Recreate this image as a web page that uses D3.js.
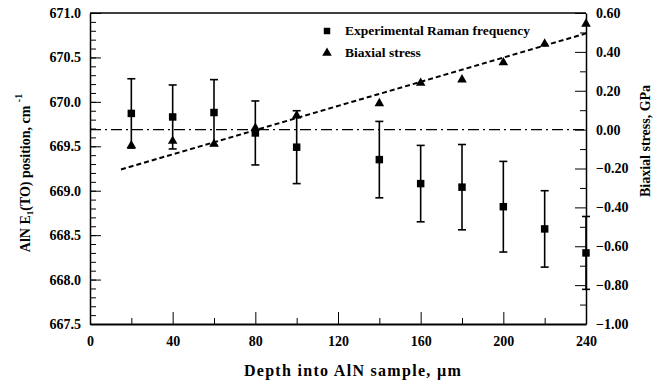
<!doctype html>
<html lang="en">
  <head>
    <meta charset="UTF-8"/>
    <title>AlN Raman / stress</title>
    <script src="https://d3js.org/d3.v7.min.js"></script>
    <style>
      body { margin: 0; background: #fff; }
      svg text { font-family: "Liberation Serif", "Times New Roman", serif; font-weight: bold; fill: #000; }
      .axis path, .axis line { stroke: #000; }
    </style>
  </head>
  <body>
    <div id="chart"></div>
    <script>
      // depth into sample (um)
      var depth = [20, 40, 60, 80, 100, 140, 160, 180, 200, 220, 240];
      // experimental Raman frequency (cm-1) and error bar half-heights
      var raman = [669.87, 669.83, 669.88, 669.65, 669.49, 669.35, 669.08, 669.04, 668.82, 668.57, 668.30];
      var ramanErr = [0.39, 0.36, 0.37, 0.36, 0.41, 0.43, 0.43, 0.48, 0.51, 0.43, 0.41];
      // biaxial stress (GPa)
      var stress = [-0.082, -0.059, -0.074, 0.008, 0.072, 0.135, 0.24, 0.257, 0.345, 0.441, 0.544];
      // dashed trend line through stress
      var fitX = [15, 240];
      var fitY = [-0.205, 0.495];

      var xTicks = [0, 40, 80, 120, 160, 200, 240];
      var leftTicks = [667.5, 668.0, 668.5, 669.0, 669.5, 670.0, 670.5, 671.0];
      var rightTicks = [-1.0, -0.8, -0.6, -0.4, -0.2, 0.0, 0.2, 0.4, 0.6];

      var W = 662, H = 383;
      var margin = {top: 13, right: 76, bottom: 59, left: 90};
      var width = W - margin.left - margin.right,
          height = H - margin.top - margin.bottom;

      var svg = d3.select("#chart").append("svg")
          .attr("width", W).attr("height", H);
      var g = svg.append("g").attr("transform", "translate(" + margin.left + "," + margin.top + ")");

      var x = d3.scaleLinear().domain([0, 240]).range([0, width]);
      var yL = d3.scaleLinear().domain([667.5, 671.0]).range([height, 0]);
      var yR = d3.scaleLinear().domain([-1.0, 0.6]).range([height, 0]);

      // minor ticks
      g.append("g").attr("class", "axis")
        .call(d3.axisLeft(yL).tickValues(d3.range(667.6, 671.0, 0.1)).tickSize(-6).tickFormat(""))
        .call(s => s.select(".domain").remove());
      g.append("g").attr("class", "axis").attr("transform", "translate(" + width + ",0)")
        .call(d3.axisRight(yR).tickValues(d3.range(-0.9, 0.6, 0.2)).tickSize(-6).tickFormat(""))
        .call(s => s.select(".domain").remove());
      g.append("g").attr("class", "axis").attr("transform", "translate(0," + height + ")")
        .call(d3.axisBottom(x).tickValues(d3.range(20, 240, 40)).tickSize(-6).tickFormat(""))
        .call(s => s.select(".domain").remove());

      // major axes
      var ax = g.append("g").attr("class", "axis")
        .call(d3.axisLeft(yL).tickValues(leftTicks).tickSizeInner(-11).tickSizeOuter(0).tickPadding(9).tickFormat(d3.format(".1f")));
      ax.selectAll("text").style("font-size", "14px");
      ax.select(".domain").attr("stroke-width", 1.5);

      var axR = g.append("g").attr("class", "axis").attr("transform", "translate(" + width + ",0)")
        .call(d3.axisRight(yR).tickValues(rightTicks).tickSizeInner(-11).tickSizeOuter(0).tickPadding(10).tickFormat(d3.format(".2f")));
      axR.selectAll("text").style("font-size", "14px");
      axR.select(".domain").attr("stroke-width", 1.5);

      var axB = g.append("g").attr("class", "axis").attr("transform", "translate(0," + height + ")")
        .call(d3.axisBottom(x).tickValues(xTicks).tickSizeInner(-12).tickSizeOuter(0).tickPadding(12));
      axB.selectAll("text").style("font-size", "14px");
      axB.select(".domain").attr("stroke-width", 2);

      // top border
      g.append("line").attr("x1", 0).attr("x2", width).attr("y1", 0).attr("y2", 0)
        .attr("stroke", "#000").attr("stroke-width", 1.5);

      // zero stress reference line
      g.append("line")
        .attr("x1", 0).attr("x2", width)
        .attr("y1", yR(0)).attr("y2", yR(0))
        .attr("stroke", "#000").attr("stroke-width", 1.2)
        .attr("stroke-dasharray", "11,4,2,4");

      // trend line
      g.append("line")
        .attr("x1", x(fitX[0])).attr("x2", x(fitX[1]))
        .attr("y1", yR(fitY[0])).attr("y2", yR(fitY[1]))
        .attr("stroke", "#000").attr("stroke-width", 2)
        .attr("stroke-dasharray", "5,3");

      // error bars
      var pts = depth.map((d, i) => ({d: d, r: raman[i], e: ramanErr[i], s: stress[i]}));
      var eb = g.selectAll(".err").data(pts).enter().append("g").attr("class", "err")
        .attr("stroke", "#000").attr("stroke-width", 1.6);
      eb.append("line").attr("x1", d => x(d.d)).attr("x2", d => x(d.d))
        .attr("y1", d => yL(d.r + d.e)).attr("y2", d => yL(d.r - d.e));
      eb.append("line").attr("x1", d => x(d.d) - 4).attr("x2", d => x(d.d) + 4)
        .attr("y1", d => yL(d.r + d.e)).attr("y2", d => yL(d.r + d.e));
      eb.append("line").attr("x1", d => x(d.d) - 4).attr("x2", d => x(d.d) + 4)
        .attr("y1", d => yL(d.r - d.e)).attr("y2", d => yL(d.r - d.e));

      var sq = d3.symbol().type(d3.symbolSquare).size(56);
      var tri = d3.symbol().type(d3.symbolTriangle).size(40);

      g.selectAll(".sq").data(pts).enter().append("path").attr("class", "sq")
        .attr("d", sq).attr("fill", "#000")
        .attr("transform", d => "translate(" + x(d.d) + "," + yL(d.r) + ")");
      g.selectAll(".tri").data(pts).enter().append("path").attr("class", "tri")
        .attr("d", tri).attr("fill", "#000")
        .attr("transform", d => "translate(" + x(d.d) + "," + yR(d.s) + ")");

      // legend
      var lg = svg.append("g").attr("transform", "translate(327,0)");
      lg.append("path").attr("d", d3.symbol().type(d3.symbolSquare).size(42)).attr("fill", "#000")
        .attr("transform", "translate(0,31)");
      lg.append("path").attr("d", d3.symbol().type(d3.symbolTriangle).size(40)).attr("fill", "#000")
        .attr("transform", "translate(0,53)");
      lg.append("text").attr("x", 18).attr("y", 35).style("font-size", "13.5px").text("Experimental Raman frequency");
      lg.append("text").attr("x", 18).attr("y", 57).style("font-size", "13.5px").text("Biaxial stress");

      // axis titles
      svg.append("text").attr("x", 353).attr("y", 376)
        .attr("text-anchor", "middle").style("font-size", "16px").style("letter-spacing", "1.3px")
        .text("Depth into AlN sample,  \u00b5m");

      var lt = svg.append("text").attr("transform", "translate(30,173) rotate(-90)")
        .attr("text-anchor", "middle").style("font-size", "14px");
      lt.append("tspan").text("AlN E");
      lt.append("tspan").attr("dy", 3).style("font-size", "9px").text("1");
      lt.append("tspan").attr("dy", -3).text("(TO) position, cm ");
      lt.append("tspan").attr("dy", -8).style("font-size", "10px").text("-1");

      svg.append("text").attr("transform", "translate(650,141) rotate(-90)")
        .attr("text-anchor", "middle").style("font-size", "14px")
        .text("Biaxial stress, GPa");
    </script>
  </body>
</html>
